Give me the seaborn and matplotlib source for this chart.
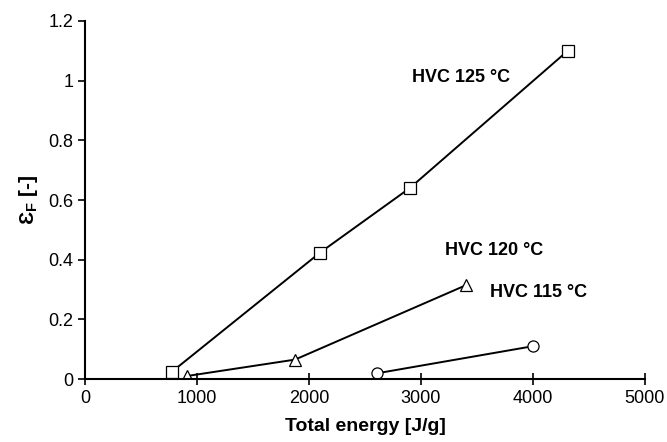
import matplotlib
matplotlib.use("Agg")
import matplotlib.pyplot as plt
import seaborn as sns
import pandas as pd
from matplotlib.ticker import FuncFormatter

sns.set_style("ticks")
plt.rcParams['font.family'] = ['Liberation Sans', 'DejaVu Sans']
plt.rcParams['text.color'] = 'black'
plt.rcParams['axes.labelcolor'] = 'black'

x125 = [775, 2100, 2900, 4310]
y125 = [0.024, 0.424, 0.64, 1.10]
x120 = [910, 1875, 3405]
y120 = [0.01, 0.065, 0.315]
x115 = [2605, 4000]
y115 = [0.019, 0.11]
labels = ["HVC 125 °C", "HVC 120 °C", "HVC 115 °C"]
label_pos = [(2920, 1.01), (3214, 0.43), (3616, 0.29)]
xticks = [0, 1000, 2000, 3000, 4000, 5000]
yticks = [0, 0.2, 0.4, 0.6, 0.8, 1.0, 1.2]

fig = plt.figure(figsize=(6.67, 4.42), dpi=100)
ax = fig.add_axes([0.1274, 0.1425, 0.8396, 0.81])

series = [(x125, y125, 's', 8.5), (x120, y120, '^', 8), (x115, y115, 'o', 8)]
for xs, ys, mk, ms in series:
    df = pd.DataFrame({'x': xs, 'y': ys})
    sns.lineplot(data=df, x='x', y='y', ax=ax, color='black', linewidth=1.4,
                 marker=mk, markersize=ms, markerfacecolor='white',
                 markeredgecolor='black', markeredgewidth=0.9, sort=False)

for lab, (tx, ty) in zip(labels, label_pos):
    ax.text(tx, ty, lab, fontsize=13, fontweight='bold', ha='left', va='center',
            color='black')

ax.set_xlim(0, 5000)
ax.set_ylim(0, 1.2)
ax.set_xticks(xticks)
ax.set_yticks(yticks)
ax.yaxis.set_major_formatter(FuncFormatter(lambda v, p: f"{v:g}"))
ax.tick_params(axis='both', labelsize=13, length=5, width=1.2, colors='black')
ax.tick_params(axis='x', direction='inout', length=8, pad=4)
ax.tick_params(axis='y', direction='out', length=5)
for s in ['top', 'right']:
    ax.spines[s].set_visible(False)
for s in ['left', 'bottom']:
    ax.spines[s].set_linewidth(1.5)
    ax.spines[s].set_color('black')
ax.set_xlabel("Total energy [J/g]", fontsize=14, fontweight='bold', labelpad=8)
ax.set_ylabel(r"$\mathregular{Ɛ}_\mathregular{F}$ [-]", fontsize=15, fontweight='bold',
              labelpad=6)

fig.savefig("out.png", dpi=100)
